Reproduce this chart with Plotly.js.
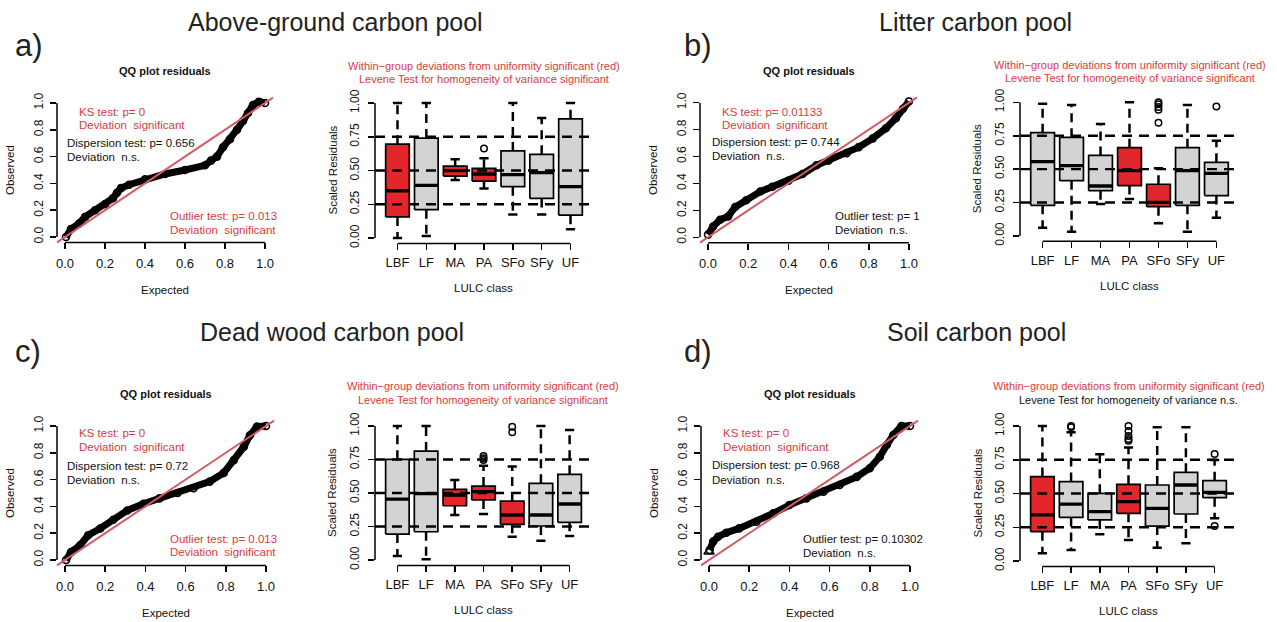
<!DOCTYPE html>
<html><head><meta charset="utf-8">
<script src="https://cdn.plot.ly/plotly-3.0.1.min.js"></script>
<style>html,body{margin:0;padding:0;background:#fff}#chart{width:1277px;height:622px}</style>
</head><body><div id="chart"></div>
<script>
const W = 1277, H = 622;
const FONT = 'Liberation Sans, Arial, sans-serif';

// ---------- data ----------
const categories = ['LBF', 'LF', 'MA', 'PA', 'SFo', 'SFy', 'UF'];
const panelTitles = ['Above-ground carbon pool', 'Litter carbon pool', 'Dead wood carbon pool', 'Soil carbon pool'];
const panelLetters = ['a)', 'b)', 'c)', 'd)'];
const qqTicks = [0, 0.2, 0.4, 0.6, 0.8, 1.0];
const residualTicks = [0, 0.25, 0.5, 0.75, 1.0];
const refLevels = [0.25, 0.5, 0.75];

// QQ plot residuals (expected vs observed)
const qqExpectedA = [0.005,0.03,0.07,0.1,0.15,0.2,0.24,0.26,0.28,0.32,0.4,0.5,0.6,0.7,0.73,0.76,0.79,0.825,0.86,0.89,0.915,0.94,0.97,1.0];
const qqObservedA = [0.0,0.06,0.1,0.15,0.2,0.245,0.29,0.33,0.365,0.39,0.43,0.47,0.5,0.535,0.57,0.6,0.67,0.73,0.8,0.865,0.925,0.985,1.01,1.0];
const qqExpectedB = [0.0,0.025,0.06,0.1,0.135,0.19,0.26,0.32,0.4,0.47,0.54,0.6,0.69,0.75,0.82,0.885,0.935,0.97,1.0];
const qqObservedB = [0.02,0.08,0.13,0.155,0.225,0.275,0.34,0.375,0.42,0.47,0.535,0.57,0.625,0.67,0.735,0.81,0.885,0.955,1.01];
const qqExpectedC = [0.005,0.03,0.075,0.115,0.175,0.24,0.31,0.39,0.47,0.56,0.64,0.72,0.79,0.84,0.89,0.92,0.955,1.0];
const qqObservedC = [0.0,0.06,0.11,0.185,0.235,0.3,0.37,0.42,0.46,0.5,0.535,0.585,0.65,0.745,0.845,0.93,0.995,1.0];
const qqExpectedD = [0.003,0.02,0.045,0.086,0.15,0.236,0.32,0.4,0.485,0.57,0.65,0.735,0.8,0.85,0.885,0.917,0.958,1.0];
const qqObservedD = [0.075,0.137,0.174,0.204,0.236,0.286,0.348,0.41,0.46,0.51,0.56,0.62,0.685,0.77,0.86,0.933,1.0,1.0];
const qqOutlierExpectedD = [0.0];
const qqOutlierObservedD = [0.062];

// Boxplots of scaled residuals per LULC class
const lowerA  = [0.0,0.015,0.43,0.367,0.174,0.174,0.065];
const q1A     = [0.156,0.21,0.459,0.422,0.38,0.293,0.169];
const medianA = [0.35,0.39,0.499,0.474,0.47,0.484,0.38];
const q3A     = [0.695,0.74,0.533,0.516,0.645,0.62,0.883];
const upperA  = [1.0,1.0,0.583,0.59,1.0,0.888,1.0];
const outliersA = [[],[],[],[0.663],[],[],[]];
const significantA = [true,false,true,true,false,false,false];

const lowerB  = [0.062,0.032,0.239,0.277,0.095,0.032,0.137];
const q1B     = [0.229,0.414,0.339,0.377,0.219,0.229,0.302];
const medianB = [0.556,0.526,0.374,0.489,0.252,0.489,0.469];
const q3B     = [0.773,0.738,0.603,0.661,0.387,0.661,0.551];
const upperB  = [0.99,0.98,0.838,1.0,0.506,0.98,0.713];
const outliersB = [[],[],[],[],[1.0,0.985,0.965,0.945,0.848],[],[0.968]];
const significantB = [false,false,false,true,true,false,false];

const lowerC  = [0.03,0.005,0.336,0.343,0.174,0.144,0.179];
const q1C     = [0.194,0.211,0.405,0.448,0.266,0.254,0.281];
const medianC = [0.455,0.495,0.485,0.51,0.336,0.336,0.418];
const q3C     = [0.751,0.813,0.527,0.552,0.44,0.572,0.639];
const upperC  = [1.0,1.0,0.597,0.704,0.697,1.0,0.97];
const outliersC = [[],[],[],[0.776,0.759,0.746],[0.995,0.953],[],[]];
const significantC = [false,false,true,true,true,false,false];

const lowerD  = [0.057,0.081,0.198,0.156,0.099,0.131,0.316];
const q1D     = [0.217,0.323,0.304,0.353,0.259,0.348,0.469];
const medianD = [0.341,0.422,0.365,0.44,0.39,0.563,0.509];
const q3D     = [0.625,0.588,0.501,0.568,0.563,0.657,0.595];
const upperD  = [1.0,0.953,0.79,0.84,0.99,0.99,0.748];
const outliersD = [[],[1.0,0.99],[],[1.0,0.963,0.926,0.904,0.89],[],[],[0.793,0.259]];
const significantD = [true,false,false,true,false,false,false];

// Test results text
const ksText = ['KS test: p= 0','KS test: p= 0.01133','KS test: p= 0','KS test: p= 0'];
const ksSig = [true,true,true,true];
const dispText = ['Dispersion test: p= 0.656','Dispersion test: p= 0.744','Dispersion test: p= 0.72','Dispersion test: p= 0.968'];
const dispSig = [false,false,false,false];
const outText = ['Outlier test: p= 0.013','Outlier test: p= 1','Outlier test: p= 0.013','Outlier test: p= 0.10302'];
const outSig = [true,false,true,false];
const leveneSig = [true,true,true,false];

// ---------- styles / layout ----------
const RED_TXT = '#d93b3b', RED_BOX = '#e3262b', GRAY_BOX = '#d3d3d3', QQ_LINE = '#d35c66', INK = '#111';

const panels = [
  {qq:[57,273,97.6,242.4],  box:[375,593,97.6,243.4],  title:[335,22],    letter:[29,45],
   ks:[0.06,0.93,0.836], disp:[0.0,0.70,0.60], out:[0.517,0.157,0.052], bt:[65.7,79.3]},
  {qq:[700,917,97.3,242.7], box:[1020,1239,97,241.3],  title:[975.5,22],  letter:[698,45],
   ks:[0.062,0.933,0.834], disp:[0.008,0.71,0.606], out:[0.622,0.158,0.054], bt:[65,78.3]},
  {qq:[57,274,420.6,565.4], box:[375,592,420.6,565.4], title:[331.7,332], letter:[28,351],
   ks:[0.06,0.95,0.84], disp:[0.0,0.70,0.60], out:[0.512,0.157,0.057], bt:[386,399.5]},
  {qq:[701,918,420.6,565.4],box:[1020,1237,420.6,566.4],title:[976,332],  letter:[697.5,351],
   ks:[0.062,0.945,0.84], disp:[0.003,0.709,0.60], out:[0.457,0.154,0.054], bt:[386,400]}
];

const qqData = [
  [qqExpectedA, qqObservedA], [qqExpectedB, qqObservedB],
  [qqExpectedC, qqObservedC], [qqExpectedD, qqObservedD]
];
const boxData = [
  {lo:lowerA,q1:q1A,med:medianA,q3:q3A,hi:upperA,out:outliersA,sig:significantA},
  {lo:lowerB,q1:q1B,med:medianB,q3:q3B,hi:upperB,out:outliersB,sig:significantB},
  {lo:lowerC,q1:q1C,med:medianC,q3:q3C,hi:upperC,out:outliersC,sig:significantC},
  {lo:lowerD,q1:q1D,med:medianD,q3:q3D,hi:upperD,out:outliersD,sig:significantD}
];

const px = x => x / W;
const py = y => 1 - y / H;

const traces = [];
const layout = {
  width: W, height: H, margin: {l:0, r:0, t:0, b:0},
  paper_bgcolor: '#fff', plot_bgcolor: 'rgba(0,0,0,0)',
  showlegend: false, font: {family: FONT, color: INK},
  shapes: [], annotations: []
};

function axisBase(extra) {
  return Object.assign({
    showgrid: false, zeroline: false, showline: false, automargin: false,
    ticks: 'outside', ticklen: 6, tickwidth: 1.5, tickcolor: '#000',
    fixedrange: true
  }, extra);
}

function ann(o) {
  layout.annotations.push(Object.assign({showarrow: false, font: {family: FONT, size: 11, color: INK}}, o));
}

panels.forEach((p, i) => {
  const nq = 2 * i + 1, nb = 2 * i + 2;
  const sq = nq === 1 ? '' : String(nq), sb = String(nb);
  const xq = 'x' + sq, yq = 'y' + sq, xb = 'x' + sb, yb = 'y' + sb;

  // ----- QQ axes -----
  layout['xaxis' + sq] = axisBase({
    domain: [px(p.qq[0]), px(p.qq[1])], anchor: yq, range: [-0.04, 1.04],
    tickvals: qqTicks, tickformat: '.1f', ticklabelstandoff: 3,
    tickfont: {family: FONT, size: 13, color: INK}
  });
  layout['yaxis' + sq] = axisBase({
    domain: [py(p.qq[3]), py(p.qq[2])], anchor: xq, range: [-0.04, 1.04],
    tickvals: qqTicks, tickformat: '.1f', tickangle: -90, ticklabelstandoff: 2,
    tickfont: {family: FONT, size: 12, color: INK}
  });
  // ----- Box axes -----
  layout['xaxis' + sb] = axisBase({
    domain: [px(p.box[0]), px(p.box[1])], anchor: yb, range: [0.22, 7.78],
    tickvals: categories.map((c, k) => k + 1), ticktext: categories, ticklabelstandoff: 1,
    tickfont: {family: FONT, size: 13, color: INK}
  });
  layout['yaxis' + sb] = axisBase({
    domain: [py(p.box[3]), py(p.box[2])], anchor: xb, range: [-0.04, 1.04],
    tickvals: residualTicks, tickformat: '.2f', tickangle: -90, ticklabelstandoff: 4,
    tickfont: {family: FONT, size: 12, color: INK}
  });

  // axis lines R-style (from first to last tick)
  const axLine = {type: 'line', line: {color: '#000', width: 1.5}, layer: 'above'};
  layout.shapes.push(Object.assign({}, axLine, {xref: xq, yref: yq + ' domain', x0: qqTicks[0], x1: qqTicks[qqTicks.length-1], y0: 0, y1: 0}));
  layout.shapes.push(Object.assign({}, axLine, {xref: xq + ' domain', yref: yq, x0: 0, x1: 0, y0: qqTicks[0], y1: qqTicks[qqTicks.length-1]}));
  layout.shapes.push(Object.assign({}, axLine, {xref: xb, yref: yb + ' domain', x0: 1, x1: categories.length, y0: 0, y1: 0}));
  layout.shapes.push(Object.assign({}, axLine, {xref: xb + ' domain', yref: yb, x0: 0, x1: 0, y0: residualTicks[0], y1: residualTicks[residualTicks.length-1]}));

  // QQ points
  traces.push({
    x: qqData[i][0], y: qqData[i][1], xaxis: xq, yaxis: yq, type: 'scatter',
    mode: 'lines+markers', line: {color: '#000', width: 7},
    marker: {symbol: 'circle-open', size: 7, color: '#000', line: {width: 1.6}},
    hoverinfo: 'skip'
  });
  if (i === 3) {
    traces.push({
      x: qqOutlierExpectedD, y: qqOutlierObservedD, xaxis: xq, yaxis: yq, type: 'scatter',
      mode: 'markers', marker: {symbol: 'triangle-up-open', size: 9, color: '#000', line: {width: 1.4}},
      hoverinfo: 'skip'
    });
  }
  // 1:1 line across the plot region
  layout.shapes.push({type: 'line', xref: xq + ' domain', yref: yq + ' domain', x0: 0, y0: 0, x1: 1, y1: 1,
    line: {color: QQ_LINE, width: 2}, layer: 'above'});

  // QQ texts
  ann({text: 'QQ plot residuals', xref: xq + ' domain', yref: 'paper', x: 0.5, y: py(p.qq[2] - 26.5), xanchor: 'center', yanchor: 'middle',
       font: {family: FONT, size: 11, color: INK, weight: 'bold'}});
  const sigWord = s => s ? 'Deviation\u00a0 significant' : 'Deviation\u00a0 n.s.';
  const col = s => s ? RED_TXT : INK;
  ann({text: ksText[i], xref: xq, yref: yq, x: p.ks[0], y: p.ks[1], xanchor: 'left', yanchor: 'middle', font: {family: FONT, size: 11.5, color: col(ksSig[i])}});
  ann({text: sigWord(ksSig[i]), xref: xq, yref: yq, x: p.ks[0], y: p.ks[2], xanchor: 'left', yanchor: 'middle', font: {family: FONT, size: 11.5, color: col(ksSig[i])}});
  ann({text: dispText[i], xref: xq, yref: yq, x: p.disp[0], y: p.disp[1], xanchor: 'left', yanchor: 'middle', font: {family: FONT, size: 11.5, color: col(dispSig[i])}});
  ann({text: sigWord(dispSig[i]), xref: xq, yref: yq, x: p.disp[0], y: p.disp[2], xanchor: 'left', yanchor: 'middle', font: {family: FONT, size: 11.5, color: col(dispSig[i])}});
  ann({text: outText[i], xref: xq, yref: yq, x: p.out[0], y: p.out[1], xanchor: 'left', yanchor: 'middle', font: {family: FONT, size: 11.5, color: col(outSig[i])}});
  ann({text: sigWord(outSig[i]), xref: xq, yref: yq, x: p.out[0], y: p.out[2], xanchor: 'left', yanchor: 'middle', font: {family: FONT, size: 11.5, color: col(outSig[i])}});
  ann({text: 'Expected', xref: xq + ' domain', yref: 'paper', x: 0.5, y: py(p.qq[3] + 47.5), xanchor: 'center', yanchor: 'middle', font: {family: FONT, size: 11.5, color: INK}});
  ann({text: 'Observed', xref: 'paper', yref: yq + ' domain', x: px(p.qq[0] - 47), y: 0.5, textangle: -90, xanchor: 'center', yanchor: 'middle', font: {family: FONT, size: 11.5, color: INK}});

  // ----- Boxplots -----
  const b = boxData[i];
  const hw = 0.41, cw = 0.16;
  categories.forEach((c, k) => {
    const x = k + 1;
    traces.push({
      x: [x - hw, x + hw, x + hw, x - hw, x - hw], y: [b.q1[k], b.q1[k], b.q3[k], b.q3[k], b.q1[k]],
      xaxis: xb, yaxis: yb, type: 'scatter', mode: 'lines', fill: 'toself',
      fillcolor: b.sig[k] ? RED_BOX : GRAY_BOX, line: {color: '#000', width: 1.7}, hoverinfo: 'skip'
    });
  });
  const wx = [], wy = [], cx = [], cy = [], mx = [], my = [], ox = [], oy = [];
  categories.forEach((c, k) => {
    const x = k + 1;
    wx.push(x, x, null, x, x, null); wy.push(b.q3[k], b.hi[k], null, b.q1[k], b.lo[k], null);
    cx.push(x - cw, x + cw, null, x - cw, x + cw, null); cy.push(b.hi[k], b.hi[k], null, b.lo[k], b.lo[k], null);
    mx.push(x - hw, x + hw, null); my.push(b.med[k], b.med[k], null);
    b.out[k].forEach(v => { ox.push(x); oy.push(v); });
  });
  traces.push({x: wx, y: wy, xaxis: xb, yaxis: yb, type: 'scatter', mode: 'lines',
    line: {color: '#000', width: 2.5, dash: '9px,6px'}, hoverinfo: 'skip'});
  traces.push({x: cx, y: cy, xaxis: xb, yaxis: yb, type: 'scatter', mode: 'lines',
    line: {color: '#000', width: 2.5}, hoverinfo: 'skip'});
  traces.push({x: mx, y: my, xaxis: xb, yaxis: yb, type: 'scatter', mode: 'lines',
    line: {color: '#000', width: 3.3}, hoverinfo: 'skip'});
  traces.push({x: ox, y: oy, xaxis: xb, yaxis: yb, type: 'scatter', mode: 'markers',
    marker: {symbol: 'circle-open', size: 6.5, color: '#000', line: {width: 1.5}}, hoverinfo: 'skip'});

  refLevels.forEach(v => {
    layout.shapes.push({type: 'line', xref: xb + ' domain', yref: yb, x0: 0, x1: 1, y0: v, y1: v,
      line: {color: '#000', width: 2.4, dash: '10px,7px'}, layer: 'above'});
  });

  ann({text: 'Within\u2212group deviations from uniformity significant (red)', xref: xb + ' domain', yref: 'paper',
       x: 0.5, y: py(p.bt[0]), xanchor: 'center', yanchor: 'middle', font: {family: FONT, size: 11, color: RED_TXT}});
  ann({text: leveneSig[i] ? 'Levene Test for homogeneity of variance significant' : 'Levene Test for homogeneity of variance n.s.',
       xref: xb + ' domain', yref: 'paper', x: 0.5, y: py(p.bt[1]), xanchor: 'center', yanchor: 'middle',
       font: {family: FONT, size: 11, color: leveneSig[i] ? RED_TXT : INK}});
  ann({text: 'LULC class', xref: xb + ' domain', yref: 'paper', x: 0.5, y: py(p.box[3] + 45), xanchor: 'center', yanchor: 'middle', font: {family: FONT, size: 11.5, color: INK}});
  ann({text: 'Scaled Residuals', xref: 'paper', yref: yb + ' domain', x: px(p.box[0] - 43), y: 0.5, textangle: -90, xanchor: 'center', yanchor: 'middle', font: {family: FONT, size: 11.5, color: INK}});

  // Panel titles and letters
  ann({text: panelTitles[i], xref: 'paper', yref: 'paper', x: px(p.title[0]), y: py(p.title[1]), xanchor: 'center', yanchor: 'middle',
       font: {family: FONT, size: 25, color: '#222'}});
  ann({text: panelLetters[i], xref: 'paper', yref: 'paper', x: px(p.letter[0]), y: py(p.letter[1]), xanchor: 'center', yanchor: 'middle',
       font: {family: FONT, size: 31, color: '#222'}});
});

Plotly.newPlot('chart', traces, layout, {staticPlot: true, displayModeBar: false});
</script>
</body></html>
